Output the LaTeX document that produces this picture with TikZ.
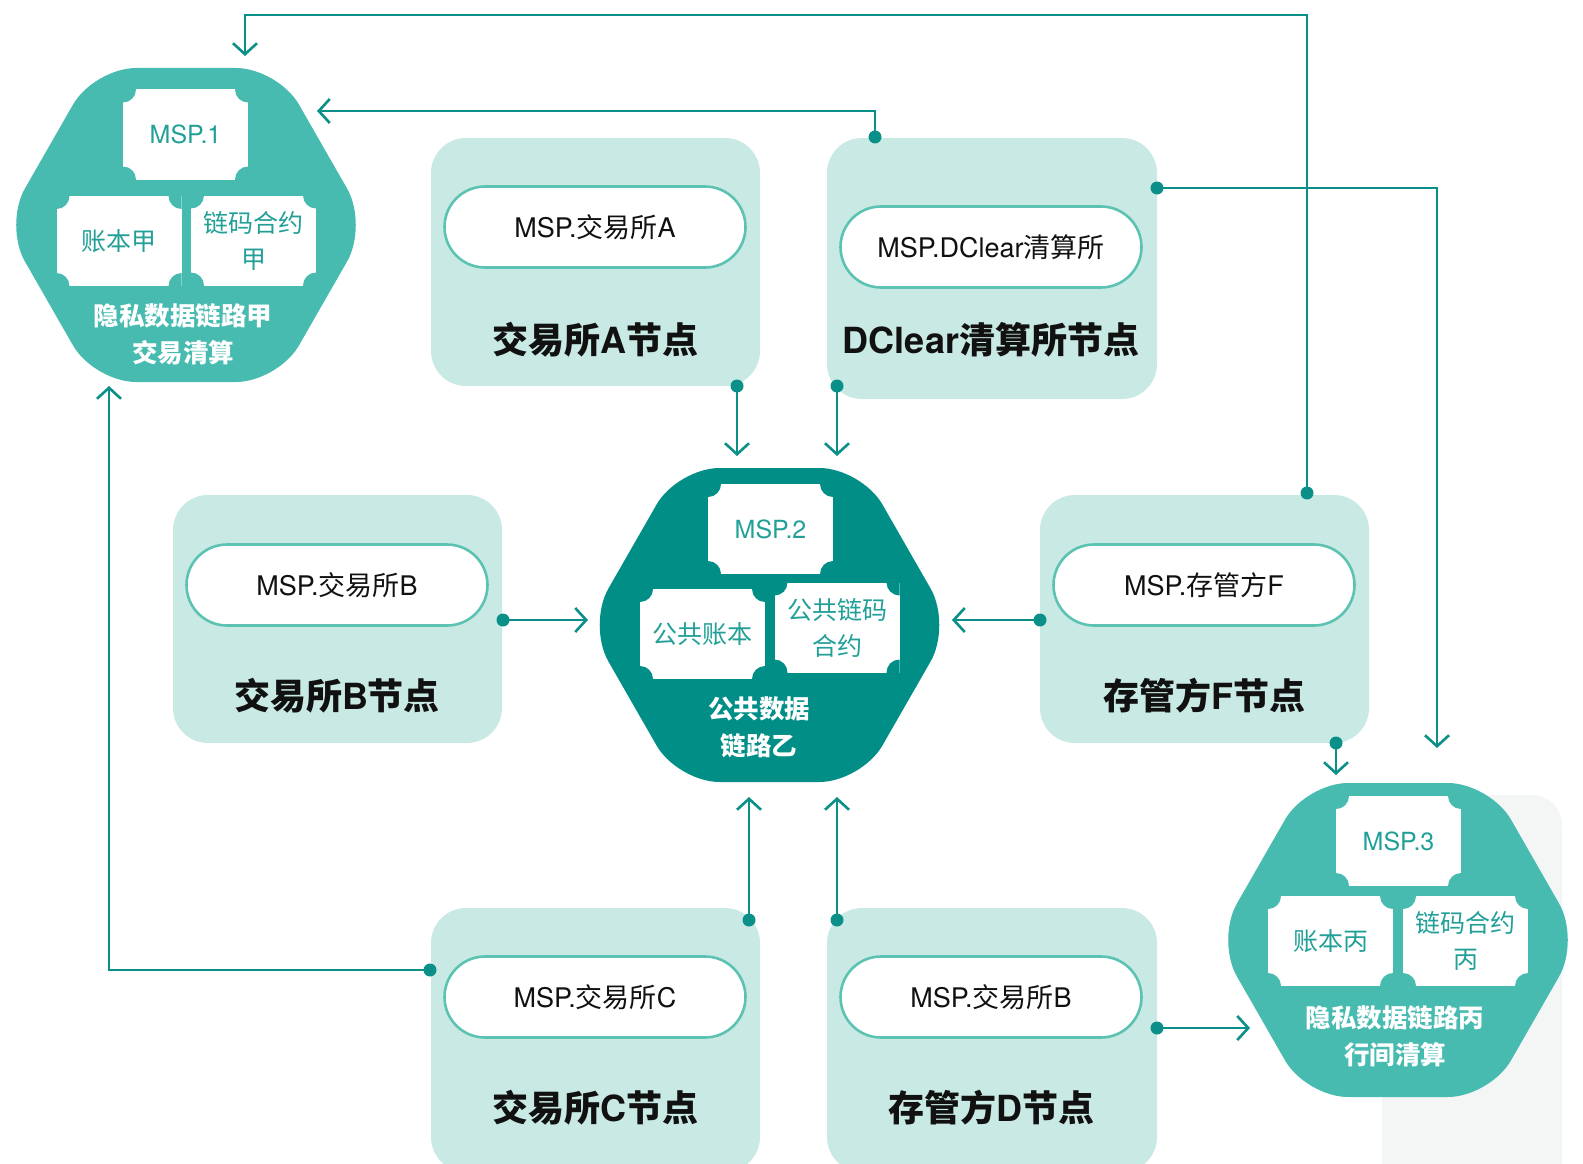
\documentclass[tikz,border=0pt]{standalone}
\usepackage{fontspec}
\setmainfont{Noto Sans CJK SC}
\newfontfamily\heros{TeX Gyre Heros}
\usetikzlibrary{arrows.meta,shapes.misc}
\definecolor{hexA}{HTML}{48BBB1}
\definecolor{hexB}{HTML}{008E87}
\definecolor{panelc}{HTML}{C9EAE4}
\definecolor{pillc}{HTML}{5CC2B2}
\definecolor{linec}{HTML}{0B8F89}
\definecolor{tickettext}{HTML}{22A098}
\definecolor{greyc}{HTML}{F4F6F6}
\definecolor{titlec}{HTML}{111111}
\newcommand\hv[1]{{\heros #1}}
\newcommand\hvb[1]{{\heros\bfseries #1}}
\newcommand\drawhex[2]{\fill[#2,rounded corners=42pt] (#1) ++(0,-157) -- ++(92,0) -- ++(90,157) -- ++(-90,157) -- ++(-184,0) -- ++(-90,-157) -- ++(90,-157) -- cycle;}
\tikzset{
  panel/.style={fill=panelc, rounded corners=35pt, inner sep=0pt},
  ticket/.style={fill=white, text=tickettext, font=\fontsize{25}{36}\selectfont, align=center,
    inner sep=0pt, minimum width=125pt, minimum height=90pt,
    path picture={\foreach \cc in {north west,north east,south west,south east}{\fill[#1] (path picture bounding box.\cc) circle (13pt);}}},
  pill/.style={rounded rectangle, draw=pillc, line width=2.6pt, fill=white, minimum width=301pt,
    minimum height=81pt, font=\fontsize{27}{30}\selectfont, inner sep=0pt, text=titlec},
  title/.style={font=\bfseries\fontsize{36}{40}\selectfont, text=titlec, inner sep=0pt},
  hexlabel/.style={text=white, font=\bfseries\fontsize{25.5}{37}\selectfont, align=center, inner sep=0pt},
  conn/.style={draw=linec, line width=2.6pt, -{Straight Barb[length=11pt,width=24pt]}},
  dotc/.style={fill=linec}
}
\begin{document}
\begin{tikzpicture}[x=1pt,y=-1pt]
\useasboundingbox (0,0) rectangle (1583,1164);
\fill[white] (0,0) rectangle (1583,1164);
% faint grey panel
\fill[greyc, rounded corners=30pt] (1382,1200) -- (1382,795) -- (1562,795) -- (1562,1200) -- cycle;

% panels
\node[panel, minimum width=329pt, minimum height=248pt] (pA) at (595.5,262) {};
\node[panel, minimum width=330pt, minimum height=261pt] (pD) at (992,268.5) {};
\node[panel, minimum width=329pt, minimum height=248pt] (pB) at (337.5,619) {};
\node[panel, minimum width=329pt, minimum height=248pt] (pF) at (1204.5,619) {};
\node[panel, minimum width=329pt, minimum height=264pt] (pC) at (595.5,1040) {};
\node[panel, minimum width=330pt, minimum height=264pt] (pDD) at (992,1040) {};

% pills
\node[pill] (mA) at (595,227) {\hv{MSP.}交易所\hv{A}};
\node[pill] (mD) at (991,247) {\hv{MSP.DClear}清算所};
\node[pill] (mB) at (337,585) {\hv{MSP.}交易所\hv{B}};
\node[pill] (mF) at (1204,585) {\hv{MSP.}存管方\hv{F}};
\node[pill] (mC) at (595,997) {\hv{MSP.}交易所\hv{C}};
\node[pill] (mDD) at (991,997) {\hv{MSP.}交易所\hv{B}};

% titles
\node[title] (tA) at (595,340) {交易所\hvb{A}节点};
\node[title] (tD) at (991,340) {\hvb{DClear}清算所节点};
\node[title] (tB) at (337,696) {交易所\hvb{B}节点};
\node[title] (tF) at (1204,696) {存管方\hvb{F}节点};
\node[title] (tC) at (595,1108) {交易所\hvb{C}节点};
\node[title] (tDD) at (991,1108) {存管方\hvb{D}节点};

% hexagons
\drawhex{186,225}{hexA}
\drawhex{769.5,625}{hexB}
\drawhex{1398,940}{hexA}

% tickets hex 1
\node[ticket=hexA] (t1a) at (185.5,134.5) {\hv{MSP.1}};
\node[ticket=hexA] (t1b) at (119,241) {账本甲};
\node[ticket=hexA] (t1c) at (253.5,240.5) {链码合约\\甲};
\node[hexlabel] (h1) at (183,334.5) {隐私数据链路甲\\交易清算};
% tickets hex 2
\node[ticket=hexB] (t2a) at (770.5,529) {\hv{MSP.2}};
\node[ticket=hexB] (t2b) at (702.5,634) {公共账本};
\node[ticket=hexB] (t2c) at (837,627.5) {公共链码\\合约};
\node[hexlabel] (h2) at (759,727.5) {公共数据\\链路乙};
% tickets hex 3
\node[ticket=hexA] (t3a) at (1398.5,841) {\hv{MSP.3}};
\node[ticket=hexA] (t3b) at (1330.5,941) {账本丙};
\node[ticket=hexA] (t3c) at (1465.5,941) {链码合约\\丙};
\node[hexlabel] (h3) at (1395,1036) {隐私数据链路丙\\行间清算};

% connector coordinates
\coordinate (dDtop) at (875,137);   \coordinate (a1) at (317,111);
\coordinate (dFtop) at (1307,493);  \coordinate (a2) at (245,56);
\coordinate (dDright) at (1157,188);\coordinate (a3) at (1437,748);
\coordinate (dAbot) at (737,386);   \coordinate (a4) at (737,456);
\coordinate (dDbot) at (837,386);   \coordinate (a5) at (837,456);
\coordinate (dBright) at (503,620); \coordinate (a6) at (588,620);
\coordinate (dFleft) at (1040,620); \coordinate (a7) at (952,620);
\coordinate (dCtop) at (749,920);   \coordinate (a8) at (749,797);
\coordinate (dDDtop) at (837,920);  \coordinate (a9) at (837,797);
\coordinate (dCleft) at (430,970);  \coordinate (a10) at (109,386);
\coordinate (dFbot) at (1336,743);  \coordinate (a11) at (1336,775);
\coordinate (dDDright) at (1157,1028); \coordinate (a12) at (1250,1028);
\coordinate (c2a) at (1307,15); \coordinate (c2b) at (245,15);

\draw[conn] (dDtop) |- (a1);
\draw[conn] (dFtop) -- (c2a) -- (c2b) -- (a2);
\draw[conn] (dDright) -| (a3);
\draw[conn] (dAbot) -- (a4);
\draw[conn] (dDbot) -- (a5);
\draw[conn] (dBright) -- (a6);
\draw[conn] (dFleft) -- (a7);
\draw[conn] (dCtop) -- (a8);
\draw[conn] (dDDtop) -- (a9);
\draw[conn] (dCleft) -| (a10);
\draw[conn] (dFbot) -- (a11);
\draw[conn] (dDDright) -- (a12);

\foreach \p in {dDtop,dFtop,dDright,dAbot,dDbot,dBright,dFleft,dCtop,dDDtop,dCleft,dFbot,dDDright}
  \fill[dotc] (\p) circle (6.5pt);
\end{tikzpicture}
\end{document}
